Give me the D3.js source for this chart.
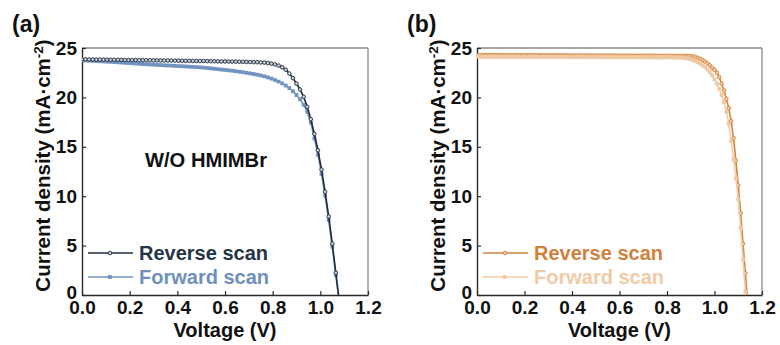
<!DOCTYPE html>
<html>
<head>
<meta charset="utf-8">
<script src="https://cdn.jsdelivr.net/npm/d3@7"></script>
<style>
  body { margin: 0; background: #fff; }
  text { font-family: "Liberation Sans", Arial, sans-serif; font-weight: bold; }
</style>
</head>
<body>
<div id="chart"></div>
<script>
// ---- data ----
var voltageA = [0.000,0.015,0.030,0.045,0.060,0.075,0.090,0.105,0.120,0.135,
  0.150,0.165,0.180,0.195,0.210,0.225,0.240,0.255,0.270,0.285,
  0.300,0.315,0.330,0.345,0.360,0.375,0.390,0.405,0.420,0.435,
  0.450,0.465,0.480,0.495,0.510,0.525,0.540,0.555,0.570,0.585,
  0.600,0.615,0.630,0.645,0.660,0.675,0.690,0.705,0.720,0.735,
  0.750,0.765,0.780,0.795,0.810,0.825,0.840,0.855,0.870,0.885,
  0.900,0.915,0.930,0.945,0.960,0.975,0.990,1.005,1.020,1.035,
  1.050,1.065,1.080];
var reverseA = [23.85,23.85,23.84,23.84,23.83,23.83,23.82,23.82,23.81,23.81,
  23.80,23.80,23.79,23.79,23.78,23.78,23.77,23.77,23.76,23.76,
  23.75,23.75,23.74,23.74,23.73,23.73,23.72,23.72,23.71,23.70,
  23.70,23.69,23.69,23.68,23.68,23.67,23.66,23.66,23.65,23.64,
  23.64,23.63,23.62,23.62,23.61,23.60,23.59,23.58,23.57,23.56,
  23.54,23.52,23.48,23.42,23.34,23.22,23.05,22.80,22.42,21.95,
  21.40,20.80,20.05,19.05,17.80,16.30,14.65,12.70,10.45,7.95,
  5.20,2.25,-0.75];
var forwardA = [23.75,23.74,23.72,23.70,23.68,23.66,23.64,23.62,23.60,23.58,
  23.55,23.53,23.50,23.48,23.45,23.43,23.40,23.38,23.35,23.33,
  23.31,23.29,23.27,23.25,23.23,23.21,23.19,23.17,23.15,23.13,
  23.11,23.09,23.07,23.04,23.01,22.98,22.94,22.90,22.86,22.82,
  22.78,22.74,22.70,22.65,22.60,22.55,22.49,22.43,22.37,22.30,
  22.22,22.13,22.02,21.90,21.76,21.60,21.42,21.20,20.94,20.62,
  20.24,19.80,19.25,18.55,17.45,15.85,14.20,12.25,10.05,7.60,
  4.90,2.00,-0.85];

var voltageB = [0.00,0.01,0.02,0.03,0.04,0.05,0.06,0.07,0.08,0.09,
  0.10,0.11,0.12,0.13,0.14,0.15,0.16,0.17,0.18,0.19,
  0.20,0.21,0.22,0.23,0.24,0.25,0.26,0.27,0.28,0.29,
  0.30,0.31,0.32,0.33,0.34,0.35,0.36,0.37,0.38,0.39,
  0.40,0.41,0.42,0.43,0.44,0.45,0.46,0.47,0.48,0.49,
  0.50,0.51,0.52,0.53,0.54,0.55,0.56,0.57,0.58,0.59,
  0.60,0.61,0.62,0.63,0.64,0.65,0.66,0.67,0.68,0.69,
  0.70,0.71,0.72,0.73,0.74,0.75,0.76,0.77,0.78,0.79,
  0.80,0.81,0.82,0.83,0.84,0.85,0.86,0.87,0.88,0.89,
  0.90,0.91,0.92,0.93,0.94,0.95,0.96,0.97,0.98,0.99,
  1.00,1.01,1.02,1.03,1.04,1.05,1.06,1.07,1.08,1.09,
  1.10,1.11,1.12,1.13,1.14];
var reverseB = [24.28,24.28,24.28,24.28,24.28,24.27,24.28,24.28,24.27,24.27,
  24.28,24.27,24.27,24.27,24.27,24.27,24.27,24.26,24.27,24.27,
  24.26,24.26,24.26,24.27,24.26,24.26,24.26,24.26,24.25,24.26,
  24.26,24.25,24.25,24.26,24.25,24.25,24.25,24.25,24.25,24.24,
  24.25,24.24,24.24,24.25,24.24,24.24,24.24,24.24,24.23,24.24,
  24.24,24.23,24.23,24.24,24.23,24.23,24.23,24.23,24.23,24.22,
  24.23,24.22,24.22,24.23,24.22,24.22,24.22,24.22,24.21,24.22,
  24.22,24.21,24.22,24.22,24.23,24.22,24.21,24.21,24.21,24.21,
  24.21,24.21,24.20,24.21,24.20,24.20,24.20,24.21,24.20,24.19,
  24.18,24.14,24.08,24.00,23.90,23.77,23.62,23.45,23.25,23.00,
  22.80,22.50,22.05,21.40,20.70,19.85,18.90,17.60,15.90,13.60,
  11.10,8.30,5.20,2.20,-0.90];
var forwardB = [24.12,24.12,24.12,24.11,24.12,24.12,24.11,24.11,24.12,24.11,
  24.11,24.11,24.11,24.10,24.11,24.11,24.10,24.11,24.10,24.10,
  24.10,24.10,24.10,24.09,24.10,24.10,24.09,24.09,24.10,24.09,
  24.09,24.09,24.09,24.08,24.09,24.09,24.08,24.08,24.09,24.08,
  24.08,24.08,24.08,24.07,24.08,24.08,24.07,24.07,24.08,24.07,
  24.07,24.07,24.07,24.06,24.07,24.07,24.06,24.06,24.07,24.06,
  24.06,24.06,24.06,24.06,24.06,24.06,24.05,24.06,24.06,24.05,
  24.06,24.05,24.05,24.05,24.06,24.05,24.05,24.05,24.05,24.05,
  24.05,24.05,24.05,24.04,24.04,24.04,24.02,24.00,23.96,23.92,
  23.86,23.78,23.68,23.56,23.42,23.25,23.05,22.82,22.55,22.22,
  21.84,21.40,20.88,20.25,19.50,18.55,17.30,15.60,13.75,11.80,
  9.70,6.80,3.60,0.30,-3.00];

var xTicks = [0.0, 0.2, 0.4, 0.6, 0.8, 1.0, 1.2];
var yTicks = [0, 5, 10, 15, 20, 25];
var seriesNames = ["Reverse scan", "Forward scan"];

var svg = d3.select("#chart").append("svg")
  .attr("width", 780)
  .attr("height", 345);

function drawPanel(p) {
  var x = d3.scaleLinear().domain([0, 1.2]).range([p.left, p.right]);
  var y = d3.scaleLinear().domain([0, 25]).range([p.bottom, p.top]);

  var g = svg.append("g");

  var clipId = "clip-" + p.id;
  svg.append("clipPath").attr("id", clipId)
    .append("rect")
    .attr("x", p.left).attr("y", p.top)
    .attr("width", p.right - p.left).attr("height", p.bottom - p.top);

  // frame: top/right grey
  g.append("line").attr("x1", p.left).attr("x2", p.right).attr("y1", p.top).attr("y2", p.top)
    .attr("stroke", "#8a8a8a").attr("stroke-width", 1.3);
  g.append("line").attr("x1", p.right).attr("x2", p.right).attr("y1", p.top).attr("y2", p.bottom)
    .attr("stroke", "#8a8a8a").attr("stroke-width", 1.3);

  // axes with inward ticks
  var xAxis = g.append("g")
    .attr("transform", "translate(0," + p.bottom + ")")
    .call(d3.axisBottom(x).tickValues(xTicks).tickFormat(d3.format(".1f")).tickSizeInner(-4).tickSizeOuter(0).tickPadding(5));
  var yAxis = g.append("g")
    .attr("transform", "translate(" + p.left + ",0)")
    .call(d3.axisLeft(y).tickValues(yTicks).tickSizeInner(-4).tickSizeOuter(0).tickPadding(5));
  [xAxis, yAxis].forEach(function(a) {
    a.select(".domain").attr("stroke", "#2a2a2a").attr("stroke-width", 1.4);
    a.selectAll(".tick line").attr("stroke", "#2a2a2a").attr("stroke-width", 1.2);
    a.selectAll(".tick text").attr("fill", "#111").style("font-size", "19px")
      .style("font-family", '"Liberation Sans", Arial, sans-serif').style("font-weight", "bold");
  });
  xAxis.selectAll(".tick text").attr("dy", "0.72em");
  // the "0" on the y axis sits just above the "0.0" below it
  yAxis.selectAll(".tick text").filter(function(d) { return d === 0; }).attr("dy", "0.18em");

  // axis titles
  svg.append("text")
    .attr("x", (p.left + p.right) / 2).attr("y", 337)
    .attr("text-anchor", "middle").attr("fill", "#111").style("font-size", "20px")
    .text("Voltage (V)");
  var yt = svg.append("text")
    .attr("transform", "translate(" + (p.left - 32) + "," + ((p.top + p.bottom) / 2 - 6) + ") rotate(-90)")
    .attr("text-anchor", "middle").attr("fill", "#111").style("font-size", "20.5px");
  yt.append("tspan").text("Current density (mA\u00B7cm");
  yt.append("tspan").attr("dy", -7).style("font-size", "13.5px").text("-2");
  yt.append("tspan").attr("dy", 7).text(")");

  // panel letter
  svg.append("text").attr("x", p.left - 70).attr("y", 32)
    .attr("fill", "#111").style("font-size", "23px").text(p.letter);

  // series
  var plot = svg.append("g").attr("clip-path", "url(#" + clipId + ")");
  var line = d3.line().x(function(d) { return x(d.v); }).y(function(d) { return y(d.j); });

  function drawSeries(s) {
    var pts = s.volt.map(function(v, i) { return { v: v, j: s.vals[i] }; });
    plot.append("path").datum(pts)
      .attr("d", line).attr("fill", "none")
      .attr("stroke", s.color).attr("stroke-width", 1.6);
    if (s.shape === "circle") {
      plot.selectAll(null).data(pts).enter().append("circle")
        .attr("cx", function(d) { return x(d.v); })
        .attr("cy", function(d) { return y(d.j); })
        .attr("r", 1.8)
        .attr("fill", s.fill).attr("stroke", s.color).attr("stroke-width", 0.9);
    } else {
      plot.selectAll(null).data(pts).enter().append("rect")
        .attr("x", function(d) { return x(d.v) - 1.9; })
        .attr("y", function(d) { return y(d.j) - 1.9; })
        .attr("width", 3.8).attr("height", 3.8)
        .attr("fill", s.fill);
    }
  }
  p.order.forEach(function(i) { drawSeries(p.series[i]); });

  // legend
  p.series.forEach(function(s, i) {
    var ly = 253 + i * 24;
    var lg = svg.append("g");
    lg.append("line").attr("x1", p.left + 6).attr("x2", p.left + 51)
      .attr("y1", ly).attr("y2", ly).attr("stroke", s.color).attr("stroke-width", 1.6);
    if (s.shape === "circle") {
      lg.append("circle").attr("cx", p.left + 28).attr("cy", ly).attr("r", 1.8)
        .attr("fill", s.fill).attr("stroke", s.color).attr("stroke-width", 0.9);
    } else {
      lg.append("rect").attr("x", p.left + 26).attr("y", ly - 1.9)
        .attr("width", 3.8).attr("height", 3.8).attr("fill", s.fill);
    }
    lg.append("text").attr("x", p.left + 57).attr("y", ly + 7)
      .attr("fill", s.text).style("font-size", "20px").text(seriesNames[i]);
  });

  if (p.note) {
    svg.append("text").attr("x", p.note.x).attr("y", p.note.y)
      .attr("fill", "#111").style("font-size", "20px")
      .attr("textLength", p.note.w).attr("lengthAdjust", "spacingAndGlyphs")
      .text(p.note.text);
  }
}

drawPanel({
  id: "a", letter: "(a)", left: 82, right: 368, top: 48, bottom: 295,
  note: { text: "W/O HMIMBr", x: 145, y: 167, w: 122 },
  order: [1, 0],
  series: [
    { volt: voltageA, vals: reverseA, color: "#1f2b3b", fill: "#c9d0d9", text: "#263447", shape: "circle" },
    { volt: voltageA, vals: forwardA, color: "#7193c0", fill: "#7193c0", text: "#6f90bd", shape: "square" }
  ]
});

drawPanel({
  id: "b", letter: "(b)", left: 477, right: 762, top: 48, bottom: 295,
  order: [0, 1],
  series: [
    { volt: voltageB, vals: reverseB, color: "#d0843f", fill: "#f3c8a0", text: "#d0813c", shape: "circle" },
    { volt: voltageB, vals: forwardB, color: "#f2cda9", fill: "#f0c9a4", text: "#f1cba7", shape: "square" }
  ]
});
</script>
</body>
</html>
